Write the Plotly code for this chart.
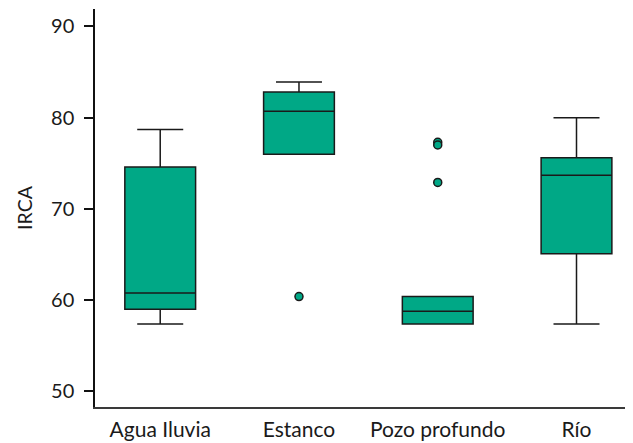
import plotly.graph_objects as go

categories = ["Agua Iluvia", "Estanco", "Pozo profundo", "Río"]
lower_fence = [57.4, 76.0, 57.4, 57.4]
q1_vals = [59.0, 76.0, 57.4, 65.1]
median_vals = [60.8, 80.7, 58.8, 73.7]
q3_vals = [74.6, 82.8, 60.4, 75.6]
upper_fence = [78.7, 83.9, 60.4, 80.0]

outlier_cats = ["Estanco", "Pozo profundo", "Pozo profundo", "Pozo profundo"]
outlier_vals = [60.4, 77.3, 77.0, 72.9]

y_ticks = [50, 60, 70, 80, 90]

FILL = "#00A886"
EDGE = "#1a1a1a"
FONT = "Lato"
TXT = "#1a1a1a"

fig = go.Figure()
fig.add_trace(go.Box(
    x=categories,
    q1=q1_vals,
    median=median_vals,
    q3=q3_vals,
    lowerfence=lower_fence,
    upperfence=upper_fence,
    fillcolor=FILL,
    line=dict(color=EDGE, width=1.5),
    width=0.51,
    whiskerwidth=0.65,
    boxpoints=False,
    showlegend=False,
    hoverinfo="skip",
))
fig.add_trace(go.Scatter(
    x=outlier_cats,
    y=outlier_vals,
    mode="markers",
    marker=dict(color=FILL, size=8, line=dict(color=EDGE, width=1.5)),
    showlegend=False,
    hoverinfo="skip",
))

fig.update_layout(
    width=633, height=443,
    margin=dict(l=87, r=9, t=1, b=44),
    plot_bgcolor="white", paper_bgcolor="white",
    font=dict(family=FONT, size=20, color=TXT),
    xaxis=dict(
        type="category",
        categoryorder="array", categoryarray=categories,
        range=[-0.47, 3.40],
        showline=True, linecolor="#3a3a3a", linewidth=2,
        ticks="", showgrid=False, zeroline=False,
        tickfont=dict(family=FONT, size=21, color=TXT),
        ticklabelstandoff=3,
    ),
    yaxis=dict(
        range=[48.3, 91.9],
        tickvals=y_ticks,
        showline=True, linecolor="#111", linewidth=1.5,
        ticks="outside", ticklen=9, tickwidth=1.5, tickcolor="#111",
        showgrid=False, zeroline=False,
        tickfont=dict(family=FONT, size=20, color=TXT),
        ticklabelstandoff=6,
        title=dict(text="IRCA", font=dict(family=FONT, size=19.5, color=TXT), standoff=13),
    ),
)

fig.write_html("out.html")
